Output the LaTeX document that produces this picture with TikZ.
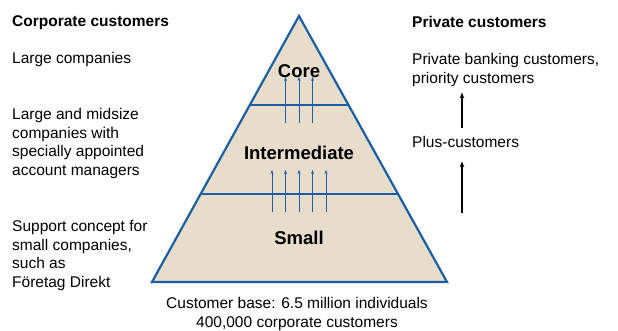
\documentclass[tikz,border=0pt]{standalone}
\usepackage{fontspec}
\setmainfont{Liberation Sans}
\usetikzlibrary{arrows.meta,calc}
\definecolor{pyrtan}{RGB}{232,221,203}
\definecolor{pyrblue}{RGB}{25,95,165}
\tikzset{
  txt/.style={anchor=base west,inner sep=0pt,align=left,font=\fontsize{15.5}{18.4}\selectfont},
  head/.style={txt,font=\fontsize{15.5}{18.4}\selectfont\bfseries},
  level/.style={anchor=base,inner sep=0pt,font=\fontsize{18.5}{20}\selectfont\bfseries},
  up/.style={-{Stealth[length=6pt,width=4.5pt]},line width=1.4pt},
  upblue/.style={pyrblue,-{Stealth[length=4pt,width=3pt]},line width=0.8pt}
}
\begin{document}
\begin{tikzpicture}[x=1pt,y=-1pt]
\useasboundingbox (0,0) rectangle (618,330);
% pyramid
\coordinate (apex) at (299,16);
\coordinate (bl) at (152,282);
\coordinate (br) at (447,282);
\draw[pyrblue,fill=pyrtan,line width=2.2pt] (apex) -- (br) -- (bl) -- cycle;
\draw[pyrblue,line width=2.2pt] ($(apex)!0.3346!(bl)$) -- ($(apex)!0.3346!(br)$);
\draw[pyrblue,line width=2.2pt] ($(apex)!0.669!(bl)$) -- ($(apex)!0.669!(br)$);
\node[level] (core) at (299,77) {Core};
\node[level] (inter) at (299,159) {Intermediate};
\node[level] (small) at (299,244) {Small};
\foreach \x in {-13.5,0,13.5}
  \draw[upblue] ($(core.base)+(\x,46)$) -- ++(0,-46);
\foreach \x in {-27,-13.5,0,13.5,27}
  \draw[upblue] ($(inter.base)+(\x,53)$) -- ++(0,-42);
% corporate side (base = last line)
\node[head] (corp) at (12,26) {Corporate customers};
\node[txt] (large) at (12,63) {Large companies};
\node[txt] (mid) at (12,175) {Large and midsize\\companies with\\specially appointed\\account managers};
\node[txt] (support) at (12,287) {Support concept for\\small companies,\\such as\\Företag Direkt};
% private side
\node[head] (priv) at (412,27) {Private customers};
\node[txt] (prvbank) at (412,83) {Private banking customers,\\priority customers};
\node[txt] (plus) at (412,147) {Plus-customers};
\coordinate (arr) at (462,0);
\coordinate (a2) at (462,213);
\draw[up,shorten <=8pt,shorten >=6pt] (plus.north -| arr) -- (prvbank.south -| arr);
\draw[up,shorten >=14pt] (a2) -- (plus.south -| arr);
% base
\node[txt,anchor=base,align=center] (base) at (297,327) {Customer base: 6.5 million individuals\\400,000 corporate customers};
\end{tikzpicture}
\end{document}
